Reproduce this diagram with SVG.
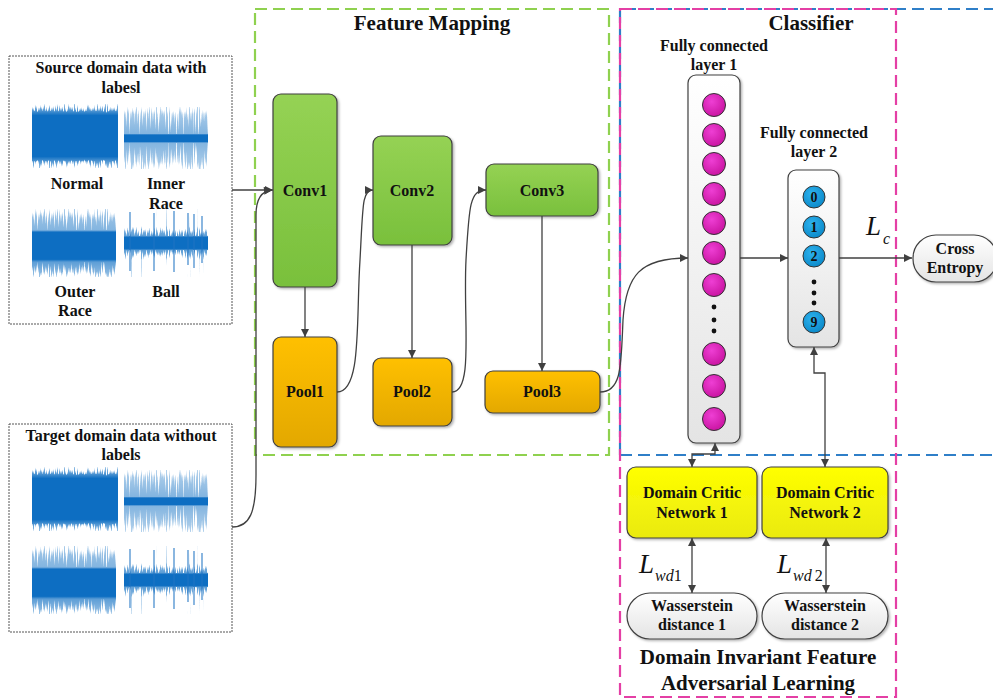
<svg xmlns="http://www.w3.org/2000/svg" xmlns:xlink="http://www.w3.org/1999/xlink" width="993" height="698" viewBox="0 0 993 698">
  <defs>
    <style>
      text { font-family: "Liberation Serif", "DejaVu Serif", serif; font-weight: bold; fill: #111; text-anchor: middle; }
      .lbl { font-size: 16px; }
      .title { font-size: 21px; }
      .math { font-family: "Liberation Serif", "DejaVu Serif", serif; font-weight: normal; font-style: italic; text-anchor: start; }
      .node { stroke: #404040; stroke-width: 1.2; filter: url(#shadow); }
      .conn { fill: none; stroke: #404040; stroke-width: 1.3; }
      .arrow { marker-end: url(#ah); }
      .both { marker-start: url(#ah); marker-end: url(#ah); }
      .frame { fill: none; stroke-width: 2.2; stroke-dasharray: 12 6; }
      .databox { fill: #fff; stroke: #555; stroke-width: 1; stroke-dasharray: 2 1; }
      .dot { fill: #111; }
    </style>
    <marker id="ah" viewBox="0 0 10 10" refX="10" refY="5" markerUnits="userSpaceOnUse" markerWidth="9" markerHeight="8" orient="auto-start-reverse">
      <path d="M0,0 L10,5 L0,10 z" fill="#404040"/>
    </marker>
    <filter id="shadow" x="-20%" y="-20%" width="150%" height="150%">
      <feDropShadow dx="1.5" dy="1.5" stdDeviation="1" flood-color="#000" flood-opacity="0.3"/>
    </filter>
    <!-- vibration signal texture: red channel of the fill = spike reach, green channel = opacity -->
    <filter id="wave" x="0" y="0" width="1" height="1" color-interpolation-filters="sRGB">
      <feTurbulence type="fractalNoise" baseFrequency="0.9 0.01" numOctaves="2" seed="7" result="n"/>
      <feColorMatrix in="n" type="matrix" values="1 0 0 0 0  1 0 0 0 0  1 0 0 0 0  0 0 0 0 1" result="g"/>
      <feComposite in="g" in2="SourceGraphic" operator="arithmetic" k1="0" k2="1" k3="1" k4="-0.75" result="d"/>
      <feColorMatrix in="d" type="matrix" values="0 0 0 0 0  0 0 0 0 0  0 0 0 0 0  6 0 0 0 -0.3" result="m"/>
      <feColorMatrix in="SourceGraphic" type="matrix" values="0 0 0 0 0.05  0 0 0 0 0.43  0 0 0 0 0.76  0 1 0 0 0" result="o"/>
      <feComposite in="o" in2="m" operator="in"/>
    </filter>
    <linearGradient id="envNormal" x1="0" y1="0" x2="0" y2="1">
      <stop offset="0" stop-color="rgb(40,110,0)"/>
      <stop offset="0.1" stop-color="rgb(110,180,0)"/>
      <stop offset="0.18" stop-color="rgb(255,255,0)"/>
      <stop offset="0.82" stop-color="rgb(255,255,0)"/>
      <stop offset="0.9" stop-color="rgb(110,180,0)"/>
      <stop offset="1" stop-color="rgb(40,110,0)"/>
    </linearGradient>
    <linearGradient id="envInner" x1="0" y1="0" x2="0" y2="1">
      <stop offset="0" stop-color="rgb(50,80,0)"/>
      <stop offset="0.12" stop-color="rgb(100,95,0)"/>
      <stop offset="0.43" stop-color="rgb(160,130,0)"/>
      <stop offset="0.45" stop-color="rgb(255,255,0)"/>
      <stop offset="0.56" stop-color="rgb(255,255,0)"/>
      <stop offset="0.58" stop-color="rgb(160,130,0)"/>
      <stop offset="0.88" stop-color="rgb(100,95,0)"/>
      <stop offset="1" stop-color="rgb(50,80,0)"/>
    </linearGradient>
    <linearGradient id="envOuter" x1="0" y1="0" x2="0" y2="1">
      <stop offset="0" stop-color="rgb(50,90,0)"/>
      <stop offset="0.12" stop-color="rgb(100,110,0)"/>
      <stop offset="0.31" stop-color="rgb(160,130,0)"/>
      <stop offset="0.34" stop-color="rgb(255,255,0)"/>
      <stop offset="0.74" stop-color="rgb(255,255,0)"/>
      <stop offset="0.78" stop-color="rgb(160,170,0)"/>
      <stop offset="0.92" stop-color="rgb(100,130,0)"/>
      <stop offset="1" stop-color="rgb(45,100,0)"/>
    </linearGradient>
    <linearGradient id="envBall" x1="0" y1="0" x2="0" y2="1">
      <stop offset="0.25" stop-color="rgb(20,120,0)"/>
      <stop offset="0.39" stop-color="rgb(130,170,0)"/>
      <stop offset="0.42" stop-color="rgb(255,255,0)"/>
      <stop offset="0.58" stop-color="rgb(255,255,0)"/>
      <stop offset="0.61" stop-color="rgb(130,170,0)"/>
      <stop offset="0.75" stop-color="rgb(20,120,0)"/>
    </linearGradient>
    <g id="wNormal"><rect x="0" y="0" width="86" height="64" fill="url(#envNormal)" filter="url(#wave)"/></g>
    <g id="wInner"><rect x="0" y="0" width="84" height="62" fill="url(#envInner)" filter="url(#wave)"/></g>
    <g id="wOuter"><rect x="0" y="0" width="84" height="68" fill="url(#envOuter)" filter="url(#wave)"/></g>
    <g id="wBall">
      <rect x="0" y="0" width="84" height="68" fill="url(#envBall)" filter="url(#wave)"/>
      <g stroke="#1f74c4" stroke-width="1.3" stroke-opacity="0.8">
        <line x1="6" y1="3" x2="6" y2="62"/>
        <line x1="30" y1="4" x2="30" y2="62"/>
        <line x1="50" y1="2" x2="50" y2="63"/>
        <line x1="64" y1="4" x2="64" y2="56"/>
        <line x1="70" y1="5" x2="70" y2="59"/>
        <line x1="78" y1="7" x2="78" y2="54"/>
      </g>
    </g>
    <linearGradient id="gConv" x1="0" y1="0" x2="0" y2="1">
      <stop offset="0" stop-color="#95d254"/>
      <stop offset="1" stop-color="#79c03c"/>
    </linearGradient>
    <linearGradient id="gPool" x1="0" y1="0" x2="0" y2="1">
      <stop offset="0" stop-color="#ffc000"/>
      <stop offset="1" stop-color="#e3a800"/>
    </linearGradient>
    <linearGradient id="gDcn" x1="0" y1="0" x2="0" y2="1">
      <stop offset="0" stop-color="#ffff00"/>
      <stop offset="1" stop-color="#eaea10"/>
    </linearGradient>
    <linearGradient id="gLight" x1="0" y1="0" x2="0" y2="1">
      <stop offset="0" stop-color="#ffffff"/>
      <stop offset="1" stop-color="#e4e4e4"/>
    </linearGradient>
    <radialGradient id="gMag" cx="0.4" cy="0.35" r="0.7">
      <stop offset="0" stop-color="#ee3fd4"/>
      <stop offset="1" stop-color="#c8129f"/>
    </radialGradient>
    <radialGradient id="gBlue" cx="0.4" cy="0.35" r="0.7">
      <stop offset="0" stop-color="#2db2ee"/>
      <stop offset="1" stop-color="#0a88c8"/>
    </radialGradient>
    <g id="mag"><circle r="11.5" fill="url(#gMag)" stroke="#333" stroke-width="1"/></g>
  </defs>

  <rect width="993" height="698" fill="#fff"/>

  <!-- module frames -->
  <g id="frames">
    <rect class="frame" x="255" y="9" width="354" height="446" stroke="#8fd14f"/>
    <path class="frame" d="M620,455 L620,9 L1000,9 M620,455 L1000,455" stroke="#2f7fc8"/>
    <rect class="frame" x="620" y="9" width="276" height="688" stroke="#e43fa5"/>
    <text class="title" x="432" y="30">Feature Mapping</text>
    <text class="title" x="811" y="30">Classifier</text>
    <text class="title" x="758" y="664">Domain Invariant Feature</text>
    <text class="title" x="758" y="690">Adversarial Learning</text>
  </g>

  <!-- input data -->
  <g id="source-data">
    <rect class="databox" x="9" y="56" width="223" height="268"/>
    <text class="lbl" x="121" y="73">Source domain data with</text>
    <text class="lbl" x="121" y="93">labesl</text>
    <use href="#wNormal" x="32" y="104"/>
    <use href="#wInner" x="124" y="107"/>
    <use href="#wOuter" x="32" y="209"/>
    <use href="#wBall" x="124" y="209"/>
    <text class="lbl" x="77" y="189">Normal</text>
    <text class="lbl" x="166" y="189">Inner</text>
    <text class="lbl" x="166" y="209">Race</text>
    <text class="lbl" x="75" y="297">Outer</text>
    <text class="lbl" x="75" y="316">Race</text>
    <text class="lbl" x="166" y="297">Ball</text>
  </g>
  <g id="target-data">
    <rect class="databox" x="9" y="424" width="223" height="208"/>
    <text class="lbl" x="121" y="441">Target domain data without</text>
    <text class="lbl" x="121" y="460">labels</text>
    <use href="#wNormal" x="32" y="467"/>
    <use href="#wInner" x="124" y="470"/>
    <use href="#wOuter" x="32" y="546"/>
    <use href="#wBall" x="124" y="546"/>
  </g>

  <!-- feature mapping layers -->
  <g id="conv1"><rect class="node" x="273" y="94" width="64" height="193" rx="8" fill="url(#gConv)"/><text class="lbl" x="305" y="196">Conv1</text></g>
  <g id="pool1"><rect class="node" x="273" y="337" width="64" height="110" rx="8" fill="url(#gPool)"/><text class="lbl" x="305" y="397">Pool1</text></g>
  <g id="conv2"><rect class="node" x="373" y="136" width="79" height="109" rx="8" fill="url(#gConv)"/><text class="lbl" x="412" y="196">Conv2</text></g>
  <g id="pool2"><rect class="node" x="373" y="358" width="79" height="68" rx="8" fill="url(#gPool)"/><text class="lbl" x="412" y="397">Pool2</text></g>
  <g id="conv3"><rect class="node" x="486" y="164" width="112" height="52" rx="8" fill="url(#gConv)"/><text class="lbl" x="542" y="196">Conv3</text></g>
  <g id="pool3"><rect class="node" x="485" y="371" width="115" height="42" rx="8" fill="url(#gPool)"/><text class="lbl" x="542" y="397">Pool3</text></g>

  <!-- classifier -->
  <g id="fc1">
    <text class="lbl" x="714" y="51">Fully connected</text>
    <text class="lbl" x="714" y="70">layer 1</text>
    <rect class="node" x="688" y="75" width="52" height="368" rx="8" fill="url(#gLight)"/>
    <use href="#mag" x="714" y="105"/>
    <use href="#mag" x="714" y="135"/>
    <use href="#mag" x="714" y="164"/>
    <use href="#mag" x="714" y="194"/>
    <use href="#mag" x="714" y="223"/>
    <use href="#mag" x="714" y="253"/>
    <use href="#mag" x="714" y="285"/>
    <circle class="dot" cx="714" cy="307" r="2.4"/>
    <circle class="dot" cx="714" cy="320" r="2.4"/>
    <circle class="dot" cx="714" cy="331" r="2.4"/>
    <use href="#mag" x="714" y="354"/>
    <use href="#mag" x="714" y="386"/>
    <use href="#mag" x="714" y="419"/>
  </g>
  <g id="fc2">
    <text class="lbl" x="814" y="138">Fully connected</text>
    <text class="lbl" x="814" y="157">layer 2</text>
    <rect class="node" x="788" y="170" width="51" height="177" rx="8" fill="url(#gLight)"/>
    <g stroke="#333" stroke-width="1" fill="url(#gBlue)">
      <circle cx="814" cy="197" r="11"/>
      <circle cx="814" cy="227" r="11"/>
      <circle cx="814" cy="256" r="11"/>
      <circle cx="814" cy="322" r="11"/>
    </g>
    <text x="814" y="202" style="font-size:14px">0</text>
    <text x="814" y="232" style="font-size:14px">1</text>
    <text x="814" y="261" style="font-size:14px">2</text>
    <text x="814" y="327" style="font-size:14px">9</text>
    <circle class="dot" cx="814" cy="282" r="2.4"/>
    <circle class="dot" cx="814" cy="293" r="2.4"/>
    <circle class="dot" cx="814" cy="303" r="2.4"/>
  </g>
  <g id="cross-entropy">
    <rect class="node" x="913" y="235" width="84" height="47" rx="23" fill="url(#gLight)"/>
    <text class="lbl" x="955" y="254">Cross</text>
    <text class="lbl" x="955" y="273">Entropy</text>
  </g>

  <!-- domain critics -->
  <g id="critic1"><rect class="node" x="627" y="467" width="130" height="71" rx="9" fill="url(#gDcn)"/><text class="lbl" x="692" y="498">Domain Critic</text><text class="lbl" x="692" y="518">Network 1</text></g>
  <g id="critic2"><rect class="node" x="762" y="467" width="126" height="71" rx="9" fill="url(#gDcn)"/><text class="lbl" x="825" y="498">Domain Critic</text><text class="lbl" x="825" y="518">Network 2</text></g>
  <g id="wd1"><rect class="node" x="627" y="593" width="130" height="46" rx="23" fill="url(#gLight)"/><text class="lbl" x="692" y="611">Wasserstein</text><text class="lbl" x="692" y="630">distance 1</text></g>
  <g id="wd2"><rect class="node" x="762" y="593" width="126" height="46" rx="23" fill="url(#gLight)"/><text class="lbl" x="825" y="611">Wasserstein</text><text class="lbl" x="825" y="630">distance 2</text></g>

  <!-- loss symbols -->
  <g id="loss-labels">
    <text class="math" x="866" y="235" style="font-size:27px">L</text>
    <text class="math" x="883" y="244" style="font-size:16px">c</text>
    <text class="math" x="639" y="573" style="font-size:27px">L</text>
    <text class="math" x="655" y="581" style="font-size:16px">wd<tspan font-style="normal">1</tspan></text>
    <text class="math" x="777" y="573" style="font-size:27px">L</text>
    <text class="math" x="793" y="581" style="font-size:16px">wd<tspan font-style="normal" dx="3">2</tspan></text>
  </g>

  <!-- connectors -->
  <g id="connectors">
    <path class="conn arrow" d="M232,190 L273,190"/>
    <path class="conn arrow" d="M232,527 C250,527 256,512 256,475 L256,215 C256,200 261,191 272,190"/>
    <path class="conn arrow" d="M305,287 L305,337"/>
    <path class="conn arrow" d="M337,392 C362,392 356,320 360,260 C363,205 362,190 373,190"/>
    <path class="conn arrow" d="M412,245 L412,358"/>
    <path class="conn arrow" d="M452,392 C474,392 463,320 466,260 C469,205 470,190 486,190"/>
    <path class="conn arrow" d="M542,216 L542,371"/>
    <path class="conn arrow" d="M600,392 C622,392 621,365 623,320 C626,275 640,258 688,258"/>
    <path class="conn arrow" d="M740,258 L788,258"/>
    <path class="conn arrow" d="M839,258 L912,258"/>
    <path class="conn both" d="M692,467 L692,454 L715,454 L715,443"/>
    <path class="conn both" d="M814,347 L814,373 L825,373 L825,467"/>
    <path class="conn both" d="M692,538 L692,593"/>
    <path class="conn both" d="M826,538 L826,593"/>
  </g>
</svg>
